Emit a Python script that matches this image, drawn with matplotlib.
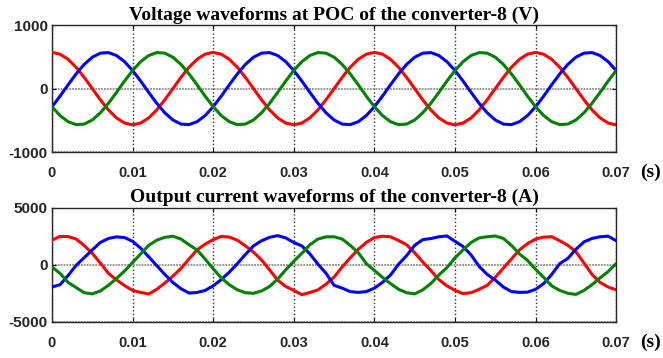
import numpy as np
import matplotlib
matplotlib.use("Agg")
import matplotlib.pyplot as plt

# ---- data (time in seconds, 1 ms step) ----
time_ms = list(range(0, 71))

volt_a = [570, 542, 461, 335, 176, 0, -176, -335, -461, -542,
          -570, -542, -461, -335, -176, 0, 176, 335, 461, 542,
          570, 542, 461, 335, 176, 0, -176, -335, -461, -542,
          -570, -542, -461, -335, -176, 0, 176, 335, 461, 542,
          570, 542, 461, 335, 176, 0, -176, -335, -461, -542,
          -570, -542, -461, -335, -176, 0, 176, 335, 461, 542,
          570, 542, 461, 335, 176, 0, -176, -335, -461, -542,
          -570]
volt_b = [-285, -119, 60, 232, 381, 494, 558, 567, 521, 424,
          285, 119, -60, -232, -381, -494, -558, -567, -521, -424,
          -285, -119, 60, 232, 381, 494, 558, 567, 521, 424,
          285, 119, -60, -232, -381, -494, -558, -567, -521, -424,
          -285, -119, 60, 232, 381, 494, 558, 567, 521, 424,
          285, 119, -60, -232, -381, -494, -558, -567, -521, -424,
          -285, -119, 60, 232, 381, 494, 558, 567, 521, 424,
          285]
volt_c = [-285, -424, -521, -567, -558, -494, -381, -232, -60, 119,
          285, 424, 521, 567, 558, 494, 381, 232, 60, -119,
          -285, -424, -521, -567, -558, -494, -381, -232, -60, 119,
          285, 424, 521, 567, 558, 494, 381, 232, 60, -119,
          -285, -424, -521, -567, -558, -494, -381, -232, -60, 119,
          285, 424, 521, 567, 558, 494, 381, 232, 60, -119,
          -285, -424, -521, -567, -558, -494, -381, -232, -60, 119,
          285]

curr_a = [2150, 2480, 2470, 2250, 1680, 1000, 150, -750, -1330, -1820,
          -2250, -2420, -2560, -2150, -1600, -1000, -320, 500, 1300, 1800,
          2200, 2480, 2420, 2150, 1650, 1100, 420, -450, -1350, -1900,
          -2250, -2620, -2430, -2200, -1700, -1080, -200, 600, 1350, 1950,
          2380, 2500, 2450, 2120, 1750, 1050, 250, -500, -1300, -1850,
          -2250, -2520, -2450, -2150, -1800, -1100, -300, 500, 1300, 1850,
          2250, 2420, 2450, 2100, 1700, 1150, 150, -850, -1550, -1950,
          -2200]
curr_b = [-1950, -1750, -940, -50, 620, 1300, 1950, 2300, 2440, 2380,
          2050, 1450, 700, -80, -850, -1550, -2100, -2480, -2430, -2250,
          -1850, -1300, -650, 100, 900, 1650, 2100, 2400, 2550, 2350,
          1950, 1650, 950, 50, -750, -1800, -2050, -2350, -2420, -2350,
          -2050, -1550, -900, 50, 800, 1700, 2200, 2290, 2450, 2520,
          2050, 1600, 850, -150, -850, -1350, -1950, -2350, -2420, -2400,
          -2150, -1650, -850, 100, 550, 1350, 2000, 2300, 2450, 2500,
          2100]
curr_c = [-200, -750, -1550, -2000, -2450, -2550, -2300, -1800, -1200, -550,
          200, 950, 1700, 2150, 2400, 2500, 2250, 1750, 1300, 500,
          -350, -1150, -1750, -2200, -2450, -2500, -2300, -1900, -1250, -450,
          300, 1000, 1750, 2250, 2440, 2450, 2250, 1700, 1050, 100,
          -500, -1100, -1650, -2150, -2450, -2550, -2200, -1650, -900, -250,
          600, 1300, 1950, 2350, 2450, 2520, 2300, 1700, 950, 380,
          -400, -1100, -1850, -2250, -2500, -2600, -2250, -1750, -1150, -600,
          100]

x_ticks = [0, 0.01, 0.02, 0.03, 0.04, 0.05, 0.06, 0.07]
x_ticklabels = ["0", "0.01", "0.02", "0.03", "0.04", "0.05", "0.06", "0.07"]
v_ticks = [-1000, 0, 1000]
v_ticklabels = ["-1000", "0", "1000"]
i_ticks = [-5000, 0, 5000]
i_ticklabels = ["-5000", "0", "5000"]

title_v = "Voltage waveforms at POC of the converter-8 (V)"
title_i = "Output current waveforms of the converter-8 (A)"
unit_label = "(s)"

t = np.array(time_ms) / 1000.0

fig = plt.figure(figsize=(6.63, 3.58), dpi=100)
ax1 = fig.add_axes([0.0784, 0.575, 0.851, 0.355])
ax2 = fig.add_axes([0.0784, 0.101, 0.851, 0.319])

colors = ["#ff0000", "#0000ff", "#008000"]
sans = "Liberation Sans"
serif = "Liberation Serif"

def style(ax, yticks, yticklabels, ttl, tpad):
    ax.set_xlim(0, 0.07)
    ax.set_xticks(x_ticks)
    ax.set_xticklabels(x_ticklabels, fontfamily=sans, fontweight="bold", fontsize=10.5, color="#262626")
    ax.set_ylim(yticks[0], yticks[-1])
    ax.set_yticks(yticks)
    ax.set_yticklabels(yticklabels, fontfamily=sans, fontweight="bold", fontsize=11, color="#262626")
    ax.tick_params(direction="in", length=3, width=0.8, top=True, right=True)
    ax.tick_params(axis="x", pad=10)
    ax.tick_params(axis="y", pad=3)
    ax.xaxis.grid(True, color="#333333", linestyle=":", linewidth=1.0)
    ax.yaxis.grid(True, color="#8c8c8c", linestyle=(0, (1, 0.6)), linewidth=1.3)
    for s in ax.spines.values():
        s.set_color("#262626")
        s.set_linewidth(1.0)
    ax.set_title(ttl, fontfamily=serif, fontweight="bold", fontsize=14, pad=tpad)
    ax.annotate(unit_label, xy=(1.0426, 0), xycoords="axes fraction",
                xytext=(0, -14.5), textcoords="offset points",
                fontfamily=serif, fontweight="bold", fontsize=14,
                ha="left", va="center")

for y, c in zip([volt_a, volt_b, volt_c], colors):
    ax1.plot(t, y, color=c, linewidth=2.2, zorder=3)
for y, c in zip([curr_a, curr_b, curr_c], colors):
    ax2.plot(t, y, color=c, linewidth=2.2, zorder=3)

style(ax1, v_ticks, v_ticklabels, title_v, 3.5)
style(ax2, i_ticks, i_ticklabels, title_i, 4.3)

fig.savefig("out.png", dpi=100)
